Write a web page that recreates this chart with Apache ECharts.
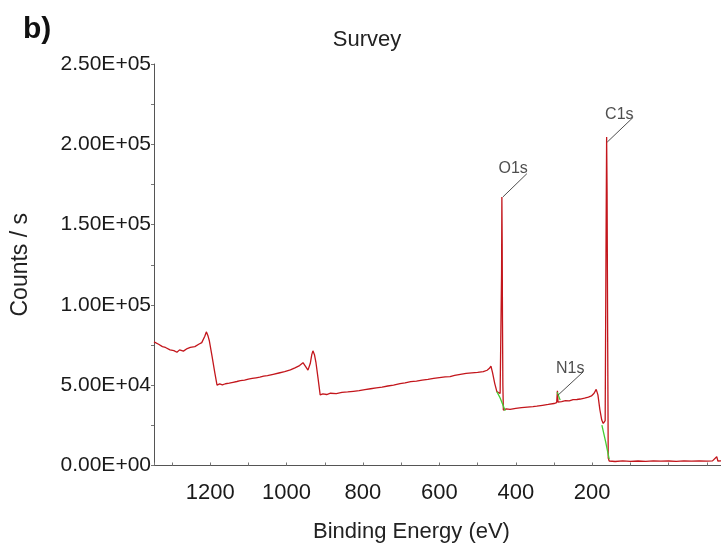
<!DOCTYPE html>
<html>
<head>
<meta charset="utf-8">
<script src="https://cdn.jsdelivr.net/npm/echarts@6/dist/echarts.min.js"></script>
<style>
  html, body { margin: 0; padding: 0; background: #fff; }
  #chart { width: 721px; height: 546px; }
</style>
</head>
<body>
<div id="chart"></div>
<script>
// survey spectrum (binding energy in eV, counts / s)
var energy = [1347, 1335, 1325, 1317, 1305, 1295, 1287, 1280, 1270, 1260, 1252, 1240, 1230, 1222, 1214, 1210, 1206, 1202,
    1195, 1188, 1182, 1175, 1168, 1160, 1150, 1140, 1130, 1121, 1110, 1100, 1090, 1080, 1070, 1060, 1050, 1035, 1020, 1005,
    990, 978, 966, 957, 950, 944, 938, 934, 931, 927, 923, 918, 912, 905, 895, 885, 870, 855, 840, 825, 810, 795, 780, 765,
    750, 735, 720, 703, 690, 675, 660, 645, 630, 615, 600, 585, 572, 560, 545, 530, 515, 500, 485, 475, 469, 465, 461, 455,
    449.5, 445, 441, 438.5, 437.2, 436.4, 435.6, 434.8, 433.8, 432.5, 425, 415, 400, 385, 370, 355, 345, 330, 315, 300, 293,
    291, 289.5, 280, 270, 260, 250, 240, 231, 220, 210, 202, 195, 189.5, 185, 180, 175, 171, 166, 163.5, 162.2, 161, 159.5,
    158, 155.5, 140, 120, 100, 80, 60, 40, 20, 0, -20, -40, -60, -80, -100, -115, -120, -126, -129, -138];
var counts = [77000, 75500, 74000, 73500, 72000, 71500, 70500, 72000, 71200, 72800, 73500, 74000, 75500, 76500, 80500, 83200, 81000, 77500,
    68000, 58000, 50000, 50800, 50200, 50900, 51300, 51800, 52300, 52800, 53200, 53800, 54200, 54600, 55000, 55700, 56000, 56800, 57600, 58400,
    59500, 60800, 62200, 64000, 61500, 59400, 63500, 69000, 71400, 69000, 64000, 55000, 44000, 44600, 44200, 45000, 44800, 45500, 45800, 46200,
    46600, 47300, 47800, 48300, 48800, 49500, 50100, 51000, 51500, 52200, 52600, 53200, 53600, 54200, 54700, 55200, 55300, 56100, 56700, 57300,
    57700, 58000, 58400, 59300, 60500, 61900, 58000, 51000, 46000, 45300, 44800, 45500, 120000, 167200, 140000, 90000, 50000, 34500, 35200, 35000,
    35600, 36000, 36400, 36700, 37000, 37500, 38000, 38600, 39100, 46500, 39500, 39800, 40400, 40200, 41000, 41100, 41400, 42000, 42600, 43300,
    45000, 47400, 44000, 35000, 28300, 26200, 28000, 150000, 204500, 170000, 80000, 4700, 2800, 2500, 2900, 2600, 2800, 2600, 2900, 2700, 2800,
    2600, 2900, 2700, 2800, 2700, 2900, 3300, 5500, 2800, 2900];

// green background segments under the peaks (null = gap)
var bgEnergy = [449.5, 440.9, 427.7, null, 291.6, 283.8, null, 174.6, 165, 155.5];
var bgCounts = [46000, 42000, 34100, null, 45700, 40700, null, 25200, 15000, 4000];

// peak labels: text position and leader line (from peak to label)
var peakNames = ['O1s', 'N1s', 'C1s'];
var peakLabelAt = [[406.8, 185000], [257.6, 60600], [129, 218600]];
var leaderFrom = [[433.8, 167200], [289, 43900], [160.5, 201400]];
var leaderTo = [[371, 181700], [223.6, 58300], [92.7, 216800]];

var xTicks = [200, 400, 600, 800, 1000, 1200];

function sci(v) {
    if (v === 0) return '0.00E+00';
    var e = Math.floor(Math.log10(v) + 1e-9);
    var m = v / Math.pow(10, e);
    return m.toFixed(2) + 'E+' + String(e).padStart(2, '0');
}

var font = 'Liberation Sans, Arial, sans-serif';
var myChart = echarts.init(document.getElementById('chart'));

var option = {
    animation: false,
    backgroundColor: '#fff',
    title: [
        {
            text: 'b)',
            left: 18,
            top: 10,
            textStyle: { fontFamily: font, fontSize: 30, fontWeight: 'bold', color: '#111' }
        },
        {
            text: 'Survey',
            left: 362,
            textAlign: 'center',
            top: 24,
            textStyle: { fontFamily: font, fontSize: 22, fontWeight: 'normal', color: '#222' }
        }
    ],
    grid: {
        left: 154,
        right: -24,
        top: 64,
        bottom: 80.5,
        containLabel: false,
        outerBoundsMode: 'none'
    },
    xAxis: {
        type: 'value',
        inverse: true,
        min: -200,
        max: 1347,
        interval: 200,
        name: 'Binding Energy (eV)',
        nameLocation: 'middle',
        nameGap: 55,
        nameTextStyle: { fontFamily: font, fontSize: 22, color: '#222', padding: [0, 76, 0, 0] },
        axisLine: { show: true, onZero: false, lineStyle: { color: '#555', width: 1 } },
        axisTick: { show: true, inside: true, length: 3, lineStyle: { color: '#777' } },
        minorTick: { show: true, splitNumber: 2, length: 3, lineStyle: { color: '#777' } },
        splitLine: { show: false },
        axisLabel: {
            fontFamily: font,
            fontSize: 22,
            color: '#1a1a1a',
            margin: 16,
            formatter: function (v) {
                return xTicks.indexOf(v) >= 0 ? String(v) : '';
            }
        }
    },
    yAxis: {
        type: 'value',
        min: 0,
        max: 250000,
        interval: 50000,
        name: 'Counts / s',
        nameLocation: 'middle',
        nameGap: 122,
        nameTextStyle: { fontFamily: font, fontSize: 23, color: '#222' },
        axisLine: { show: true, onZero: false, lineStyle: { color: '#555', width: 1 } },
        axisTick: { show: true, inside: false, length: 3, lineStyle: { color: '#777' } },
        minorTick: { show: true, splitNumber: 2, length: 3, lineStyle: { color: '#777' } },
        splitLine: { show: false },
        axisLabel: {
            fontFamily: font,
            fontSize: 21,
            color: '#1a1a1a',
            margin: 3,
            formatter: sci
        }
    },
    series: [
        {
            type: 'line',
            name: 'Survey',
            showSymbol: false,
            symbol: 'none',
            lineStyle: { color: '#c3161c', width: 1.3 },
            data: energy.map(function (e, i) { return [e, counts[i]]; }),
            markLine: {
                silent: true,
                symbol: ['none', 'none'],
                label: { show: false },
                lineStyle: { color: '#222', width: 0.8, type: 'solid' },
                data: leaderFrom.map(function (p, i) {
                    return [{ coord: p }, { coord: leaderTo[i] }];
                })
            }
        },
        {
            type: 'line',
            name: 'Background',
            showSymbol: false,
            symbol: 'none',
            connectNulls: false,
            lineStyle: { color: '#44cc33', width: 1.3 },
            data: bgEnergy.map(function (e, i) { return [e, bgCounts[i]]; })
        },
        {
            type: 'scatter',
            name: 'Peaks',
            symbolSize: 0,
            silent: true,
            label: {
                show: true,
                position: 'inside',
                fontFamily: font,
                fontSize: 16,
                color: '#222',
                formatter: function (p) { return peakNames[p.dataIndex]; }
            },
            data: peakLabelAt
        }
    ]
};

myChart.setOption(option);
</script>
</body>
</html>
